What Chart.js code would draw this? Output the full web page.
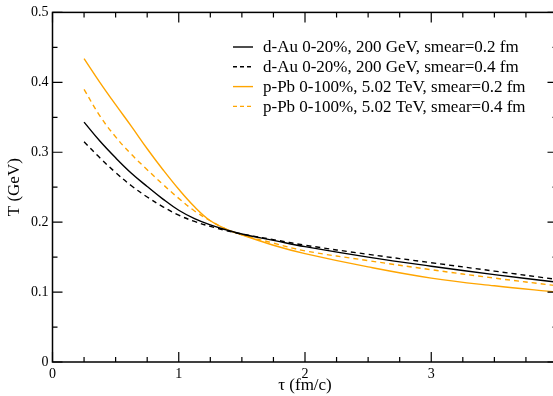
<!DOCTYPE html>
<html lang="en">
<head>
<meta charset="UTF-8">
<title>T vs tau</title>
<script src="https://cdn.jsdelivr.net/npm/chart.js"></script>
<style>
  html, body { margin: 0; padding: 0; background: #fff; overflow: hidden; }
  #wrap { width: 553px; height: 396px; overflow: hidden; position: relative; }
  #wrap canvas { position: absolute; left: 0; top: 0; }
</style>
</head>
<body>
<div id="wrap"><canvas id="tempChart" width="565" height="396"></canvas></div>
<script>
// tau (fm/c) sample points
const tau = [0.25, 0.375, 0.5, 0.625, 0.75, 0.875, 1.0, 1.125, 1.25, 1.375, 1.5, 1.75, 2.0, 2.5, 3.0, 3.5, 4.0];

// T (GeV)
const dAuSmear02 = [0.343, 0.316, 0.292, 0.270, 0.251, 0.233, 0.217, 0.205, 0.196, 0.189, 0.183, 0.174, 0.165, 0.150, 0.137, 0.125, 0.114];
const dAuSmear04 = [0.315, 0.292, 0.271, 0.252, 0.236, 0.222, 0.210, 0.201, 0.194, 0.188, 0.183, 0.175, 0.167, 0.154, 0.142, 0.130, 0.118];
const pPbSmear02 = [0.434, 0.400, 0.368, 0.337, 0.305, 0.275, 0.247, 0.222, 0.202, 0.190, 0.182, 0.167, 0.155, 0.136, 0.120, 0.109, 0.100];
const pPbSmear04 = [0.390, 0.352, 0.322, 0.297, 0.275, 0.254, 0.234, 0.216, 0.202, 0.190, 0.182, 0.170, 0.159, 0.145, 0.132, 0.120, 0.109];

const seriesLabels = [
  "d-Au 0-20%, 200 GeV, smear=0.2 fm",
  "d-Au 0-20%, 200 GeV, smear=0.4 fm",
  "p-Pb 0-100%, 5.02 TeV, smear=0.2 fm",
  "p-Pb 0-100%, 5.02 TeV, smear=0.4 fm"
];

const xTicks = [0, 1, 2, 3, 4];
const yTicks = [0, 0.1, 0.2, 0.3, 0.4, 0.5];

const FONT = "'Liberation Serif', 'Times New Roman', serif";
const ORANGE = "#FFA500";

const pts = ys => tau.map((t, i) => ({ x: t, y: ys[i] }));

const mkSet = (label, ys, color, dash) => ({
  label: label,
  data: pts(ys),
  borderColor: color,
  backgroundColor: color,
  borderWidth: 1.4,
  borderDash: dash,
  pointRadius: 0,
  fill: false,
  tension: 0.4
});

// ticks pointing inward on all four sides + frame
const frameTicks = {
  id: "frameTicks",
  afterDraw(chart) {
    const { ctx, chartArea: a, scales: { x, y } } = chart;
    ctx.save();
    ctx.strokeStyle = "#000";
    ctx.lineWidth = 1.5;
    ctx.strokeRect(a.left, a.top, a.right - a.left, a.bottom - a.top);
    ctx.lineWidth = 1.2;
    ctx.beginPath();
    for (let v = 0; v <= 4.0001; v += 0.25) {
      const px = x.getPixelForValue(v);
      const len = Math.abs(v - Math.round(v)) < 1e-6 ? 10 : 5;
      ctx.moveTo(px, a.bottom); ctx.lineTo(px, a.bottom - len);
      ctx.moveTo(px, a.top); ctx.lineTo(px, a.top + len);
    }
    for (let v = 0; v <= 0.5001; v += 0.05) {
      const py = y.getPixelForValue(v);
      const major = Math.abs(v * 10 - Math.round(v * 10)) < 1e-6;
      const len = major ? 10 : 5;
      ctx.moveTo(a.left, py); ctx.lineTo(a.left + len, py);
      ctx.moveTo(a.right, py); ctx.lineTo(a.right - len, py);
    }
    ctx.stroke();
    ctx.restore();
  }
};

// legend drawn inside the plot, top right
const innerLegend = {
  id: "innerLegend",
  afterDraw(chart) {
    const ctx = chart.ctx;
    const x0 = 233, x1 = 253, tx = 263, y0 = 47, dy = 19.8;
    ctx.save();
    ctx.font = "17px " + FONT;
    ctx.textBaseline = "middle";
    ctx.fillStyle = "#000";
    chart.data.datasets.forEach((ds, i) => {
      const yy = y0 + i * dy;
      ctx.strokeStyle = ds.borderColor;
      ctx.lineWidth = 1.4;
      ctx.setLineDash(ds.borderDash.length ? [4, 3] : []);
      ctx.beginPath();
      ctx.moveTo(x0, yy); ctx.lineTo(x1, yy);
      ctx.stroke();
      ctx.setLineDash([]);
      ctx.fillText(ds.label, tx, yy + 1);
    });
    ctx.restore();
  }
};

new Chart(document.getElementById("tempChart").getContext("2d"), {
  type: "line",
  data: {
    datasets: [
      mkSet(seriesLabels[0], dAuSmear02, "#000", []),
      mkSet(seriesLabels[1], dAuSmear04, "#000", [5, 4]),
      mkSet(seriesLabels[2], pPbSmear02, ORANGE, []),
      mkSet(seriesLabels[3], pPbSmear04, ORANGE, [5, 4])
    ]
  },
  options: {
    responsive: false,
    animation: false,
    devicePixelRatio: 1,
    layout: { padding: { top: 12, right: 7, left: 0, bottom: 0 } },
    plugins: { legend: { display: false }, tooltip: { enabled: false } },
    scales: {
      x: {
        type: "linear",
        min: 0, max: 4,
        afterBuildTicks: s => { s.ticks = xTicks.map(v => ({ value: v })); },
        afterFit: s => { s.height = 34; },
        grid: { display: false, drawTicks: false },
        border: { display: false },
        ticks: { color: "#000", padding: 4, maxRotation: 0, font: { family: FONT, size: 14 } },
        title: { display: true, text: "τ (fm/c)", color: "#000", padding: { top: 0, bottom: 0 }, font: { family: FONT, size: 17 } }
      },
      y: {
        type: "linear",
        min: 0, max: 0.5,
        afterBuildTicks: s => { s.ticks = yTicks.map(v => ({ value: v })); },
        afterFit: s => { s.width = 52.5; },
        grid: { display: false, drawTicks: false },
        border: { display: false },
        ticks: { color: "#000", padding: 4, font: { family: FONT, size: 14 } },
        title: { display: true, text: "T (GeV)", color: "#000", padding: { top: 4, bottom: 0 }, font: { family: FONT, size: 17 } }
      }
    }
  },
  plugins: [frameTicks, innerLegend]
});
</script>
</body>
</html>
